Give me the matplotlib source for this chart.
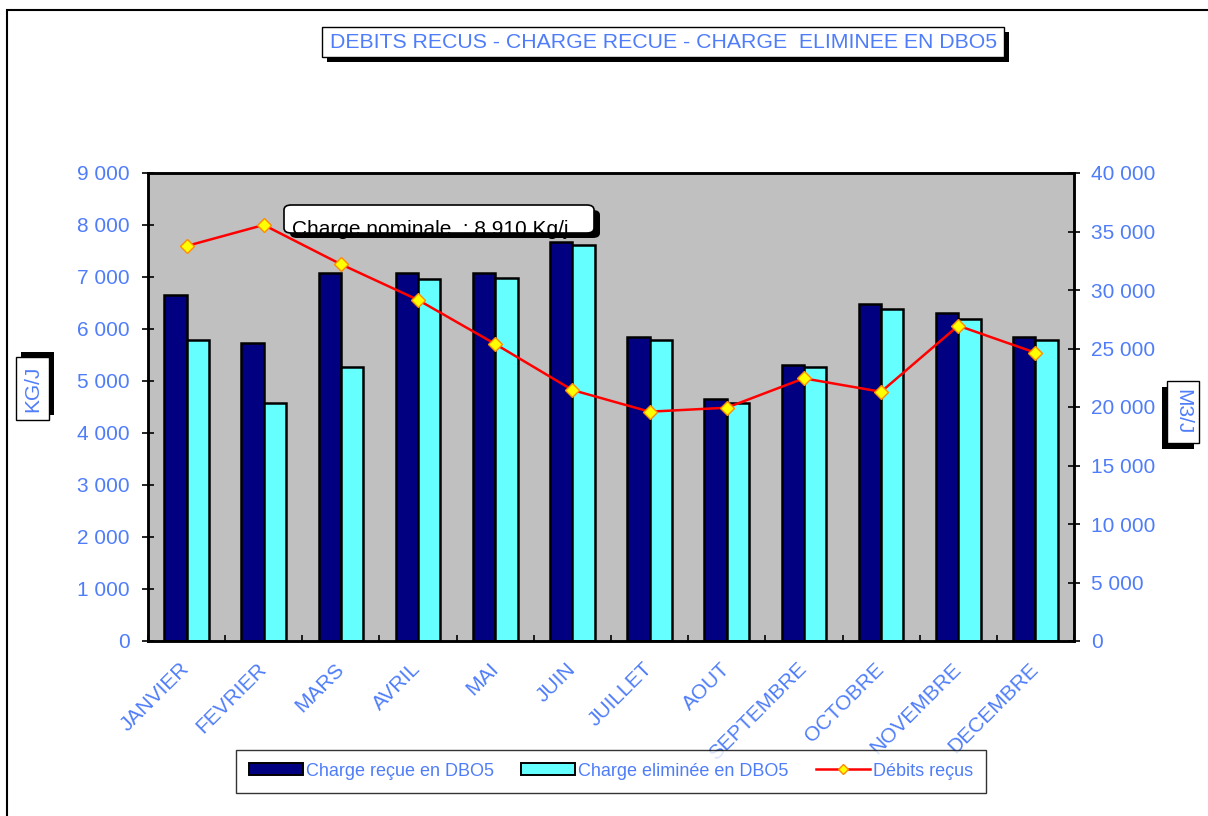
import matplotlib
matplotlib.use("Agg")
import matplotlib.pyplot as plt
from matplotlib.patches import Rectangle, FancyBboxPatch
from matplotlib.lines import Line2D
from matplotlib.ticker import FuncFormatter, FixedLocator
import numpy as np

months = ["JANVIER", "FEVRIER", "MARS", "AVRIL", "MAI", "JUIN", "JUILLET",
          "AOUT", "SEPTEMBRE", "OCTOBRE", "NOVEMBRE", "DECEMBRE"]
charge_recue = [6650, 5740, 7070, 7070, 7070, 7680, 5850, 4650, 5310, 6480, 6300, 5850]
charge_eliminee = [5790, 4580, 5270, 6970, 6980, 7610, 5780, 4570, 5260, 6390, 6190, 5780]
debits = [33760, 35560, 32200, 29150, 25380, 21450, 19600, 19940, 22450, 21300, 26950, 24640]
left_ticks = [0, 1000, 2000, 3000, 4000, 5000, 6000, 7000, 8000, 9000]
right_ticks = [0, 5000, 10000, 15000, 20000, 25000, 30000, 35000, 40000]

title = "DEBITS RECUS - CHARGE RECUE - CHARGE  ELIMINEE EN DBO5"
note = "Charge nominale  : 8 910 Kg/j"
labels = ["Charge reçue en DBO5", "Charge eliminée en DBO5", "Débits reçus"]

BLUE = "#4f7df9"
NAVY = "#000080"
CYAN = "#66ffff"
GRAY = "#c0c0c0"

plt.rcParams['font.family'] = ['Liberation Sans', 'DejaVu Sans']

W, H = 1208, 816
fig = plt.figure(figsize=(W / 100, H / 100), dpi=100)
fig.patch.set_facecolor("white")


def fx(x):
    return x / W


def fy(y):
    return 1 - y / H


# plot area
ax = fig.add_axes([fx(148), fy(641), fx(1074) - fx(148), fy(173) - fy(641)])
ax.set_facecolor(GRAY)
x = np.arange(len(months))
bw = 0.29
ax.bar(x - bw / 2, charge_recue, width=bw, color=NAVY, edgecolor="black", linewidth=1.8, zorder=2)
ax.bar(x + bw / 2, charge_eliminee, width=bw, color=CYAN, edgecolor="black", linewidth=1.8, zorder=2)
ax.set_xlim(-0.5, len(months) - 0.5)
ax.set_ylim(0, 9000)
ax.set_yticks(left_ticks)
fmt = FuncFormatter(lambda v, p: f"{int(v):,}".replace(",", " "))
ax.yaxis.set_major_formatter(fmt)
ax.tick_params(axis="y", direction="inout", length=8, width=1.2, pad=9,
               labelsize=15, labelcolor=BLUE)
ax.set_xticks(x)
ax.set_xticklabels(months, rotation=45, ha="right", va="center",
                   rotation_mode="anchor", fontsize=15, color=BLUE)
ax.tick_params(axis="x", which="major", length=0, pad=18)
ax.xaxis.set_minor_locator(FixedLocator(np.arange(-0.5, len(months), 1.0)))
ax.tick_params(axis="x", which="minor", direction="in", length=4, width=1.2)
for s in ax.spines.values():
    s.set_linewidth(1.8)
    s.set_color("black")

ax2 = ax.twinx()
ax2.plot(x, debits, color="#ff0000", linewidth=1.8, marker="D", markersize=7,
         markerfacecolor="#ffff00", markeredgecolor="#ff8c00", markeredgewidth=1.0, zorder=5)
ax2.set_ylim(0, 40000)
ax2.set_yticks(right_ticks)
ax2.yaxis.set_major_formatter(fmt)
ax2.tick_params(axis="y", direction="inout", length=8, width=1.2, pad=8.5,
                labelsize=15, labelcolor=BLUE)
for s in ax2.spines.values():
    s.set_linewidth(1.8)

# outer frame
fig.add_artist(Rectangle((fx(7), -0.1), 1.2, fy(10) + 0.1, transform=fig.transFigure,
                         facecolor="none", edgecolor="black", linewidth=1.5, clip_on=False))

# title box with shadow
fig.add_artist(Rectangle((fx(327), fy(62)), fx(682), 30 / H, transform=fig.transFigure,
                         facecolor="black", edgecolor="black", linewidth=0))
fig.add_artist(Rectangle((fx(322), fy(57)), fx(682), 30 / H, transform=fig.transFigure,
                         facecolor="white", edgecolor="black", linewidth=1.0))
fig.text(fx(664), fy(42), title, ha="center", va="center", fontsize=15.3, color=BLUE)

# nominal charge note box with shadow and clipped text
shadow = FancyBboxPatch((fx(290), fy(238)), fx(310), 28 / H,
                        boxstyle="round,pad=0,rounding_size=0.006",
                        transform=fig.transFigure, facecolor="black", edgecolor="black",
                        linewidth=0, zorder=10)
fig.add_artist(shadow)
nbox = FancyBboxPatch((fx(284), fy(233)), fx(310), 28 / H,
                      boxstyle="round,pad=0,rounding_size=0.006",
                      transform=fig.transFigure, facecolor="white", edgecolor="black",
                      linewidth=1.2, zorder=11)
fig.add_artist(nbox)
t = fig.text(fx(292), fy(235), note, ha="left", va="baseline", fontsize=15,
             color="black", zorder=12)
t.set_clip_path(nbox)

# y-axis label boxes
fig.add_artist(Rectangle((fx(21), fy(415)), fx(33), 63 / H, transform=fig.transFigure,
                         facecolor="black", linewidth=0))
fig.add_artist(Rectangle((fx(16), fy(420)), fx(33), 63 / H, transform=fig.transFigure,
                         facecolor="white", edgecolor="black", linewidth=1.0))
fig.text(fx(32.5), fy(388.5), "KG/J", rotation=90, ha="center", va="center",
         fontsize=15, color=BLUE)

fig.add_artist(Rectangle((fx(1162), fy(449)), fx(32), 62 / H, transform=fig.transFigure,
                         facecolor="black", linewidth=0))
fig.add_artist(Rectangle((fx(1167), fy(443)), fx(32), 62 / H, transform=fig.transFigure,
                         facecolor="white", edgecolor="black", linewidth=1.0))
fig.text(fx(1183), fy(412), "M3/J", rotation=-90, ha="center", va="center",
         fontsize=15, color=BLUE)

# legend
handles = [
    Rectangle((0, 0), 1, 1, facecolor=NAVY, edgecolor="black", linewidth=1.4),
    Rectangle((0, 0), 1, 1, facecolor=CYAN, edgecolor="black", linewidth=1.4),
    Line2D([0], [0], color="#ff0000", linewidth=1.8, marker="D", markersize=5,
           markerfacecolor="#ffff00", markeredgecolor="#ff8c00"),
]
leg = fig.legend(handles, labels, loc="center", bbox_to_anchor=(fx(611), fy(771)),
                 ncol=3, fontsize=13, frameon=True, fancybox=False, shadow=False,
                 handlelength=3.0, handleheight=0.6, handletextpad=0.17,
                 columnspacing=1.5, borderpad=0.72, borderaxespad=0,
                 labelcolor=BLUE)
leg.get_frame().set_edgecolor("black")
leg.get_frame().set_linewidth(1.0)

fig.savefig("out.png", dpi=100)
